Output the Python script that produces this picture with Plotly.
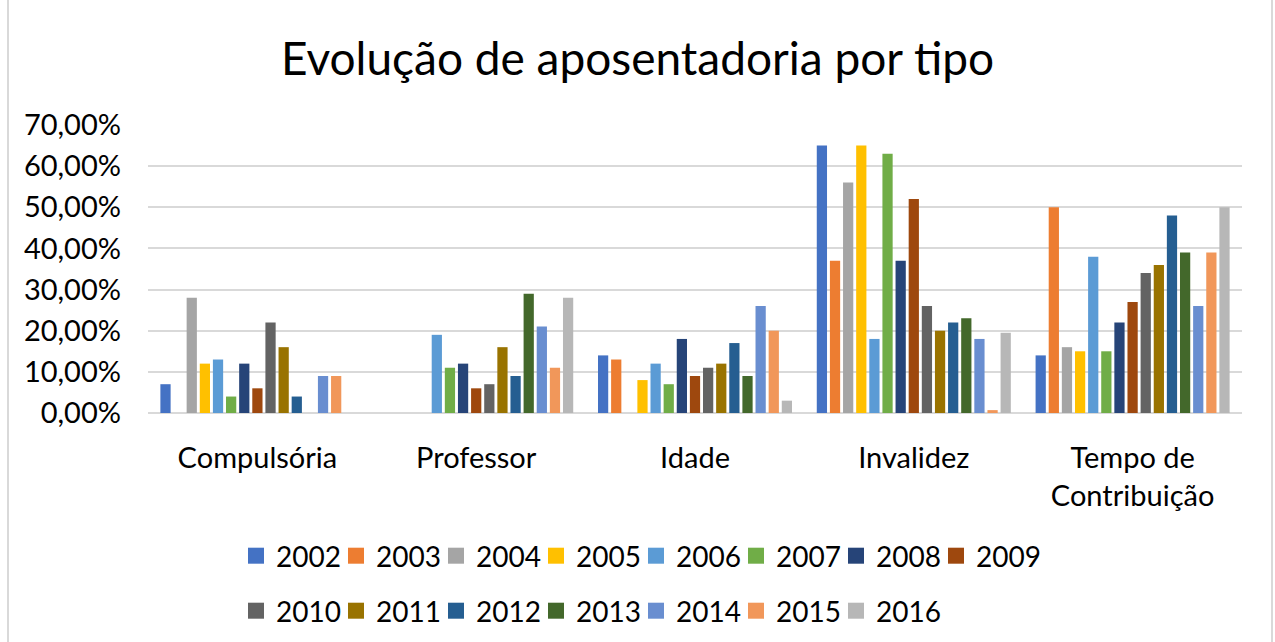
import plotly.graph_objects as go

# categories on the x axis
categories = ["Compulsória", "Professor", "Idade", "Invalidez", "Tempo de<br>Contribuição"]

years = ["2002", "2003", "2004", "2005", "2006", "2007", "2008", "2009",
         "2010", "2011", "2012", "2013", "2014", "2015", "2016"]

# share of retirements per type, one list per year (Compulsória, Professor, Idade, Invalidez, Tempo)
v2002 = [0.07, 0.0, 0.14, 0.65, 0.14]
v2003 = [0.0, 0.0, 0.13, 0.37, 0.50]
v2004 = [0.28, 0.0, 0.0, 0.56, 0.16]
v2005 = [0.12, 0.0, 0.08, 0.65, 0.15]
v2006 = [0.13, 0.19, 0.12, 0.18, 0.38]
v2007 = [0.04, 0.11, 0.07, 0.63, 0.15]
v2008 = [0.12, 0.12, 0.18, 0.37, 0.22]
v2009 = [0.06, 0.06, 0.09, 0.52, 0.27]
v2010 = [0.22, 0.07, 0.11, 0.26, 0.34]
v2011 = [0.16, 0.16, 0.12, 0.20, 0.36]
v2012 = [0.04, 0.09, 0.17, 0.22, 0.48]
v2013 = [0.0, 0.29, 0.09, 0.23, 0.39]
v2014 = [0.09, 0.21, 0.26, 0.18, 0.26]
v2015 = [0.09, 0.11, 0.20, 0.007, 0.39]
v2016 = [0.0, 0.28, 0.03, 0.195, 0.50]

values = [v2002, v2003, v2004, v2005, v2006, v2007, v2008, v2009,
          v2010, v2011, v2012, v2013, v2014, v2015, v2016]

colors = ["#4472C4", "#ED7D31", "#A5A5A5", "#FFC000", "#5B9BD5", "#70AD47",
          "#264478", "#9E480E", "#636363", "#997300", "#255E91", "#43682B",
          "#698ED0", "#F1975A", "#B7B7B7"]

font = "Lato, 'Open Sans', sans-serif"

fig = go.Figure()
for i, (year, vals, col) in enumerate(zip(years, values, colors)):
    fig.add_trace(go.Bar(
        x=categories,
        y=vals,
        name=year,
        marker=dict(color=col, line=dict(width=0)),
        legendgroup=year,
        showlegend=False,
    ))
    # legend-only entry so the swatch can be a bigger square
    fig.add_trace(go.Scatter(
        x=[None], y=[None],
        mode="markers",
        name=year,
        marker=dict(symbol="square", size=16, color=col),
        legendgroup=year,
        legend="legend" if i < 8 else "legend2",
    ))

# empty spacer entries so the last label of each row isn't clipped
for leg in ["legend", "legend2"]:
    fig.add_trace(go.Scatter(
        x=[None], y=[None], mode="markers", name=" ",
        marker=dict(size=1, color="rgba(0,0,0,0)",
                    line=dict(width=0, color="rgba(0,0,0,0)")),
        legend=leg, hoverinfo="skip",
    ))

# two legend rows, 8 + 7 entries
legend_style = dict(
    orientation="h",
    font=dict(family=font, size=28, color="#000000"),
    entrywidth=55,
    entrywidthmode="pixels",
    xref="container",
    yref="container",
    xanchor="left",
    yanchor="middle",
    bgcolor="rgba(0,0,0,0)",
    itemsizing="trace",
)

fig.update_layout(
    width=1275,
    height=642,
    title=dict(text="Evolução de aposentadoria por tipo", x=0.5, xanchor="center",
               y=0.908, yanchor="middle",
               font=dict(family=font, size=46, color="#000000")),
    font=dict(family=font, size=29, color="#000000"),
    separators=",.",
    barmode="group",
    bargap=0.1,
    bargroupgap=0.22,
    plot_bgcolor="white",
    paper_bgcolor="white",
    margin=dict(l=148, r=33, t=125, b=229),
    xaxis=dict(showgrid=False, showline=False, ticks="", tickfont=dict(size=29),
               ticklabelstandoff=25),
    yaxis=dict(range=[0, 0.7], dtick=0.1, tickformat=".2%", showgrid=True,
               gridcolor="#D9D9D9", gridwidth=1.5, zeroline=True,
               zerolinecolor="#D9D9D9", zerolinewidth=1.5, ticks="",
               tickfont=dict(size=29), ticklabelstandoff=26),
    legend=dict(legend_style, x=236 / 1275, y=1 - 556 / 642),
    legend2=dict(legend_style, x=236 / 1275, y=1 - 611 / 642),
    shapes=[
        dict(type="line", xref="paper", yref="paper",
             x0=(8 - 148) / 1094, x1=(8 - 148) / 1094,
             y0=(413 - 642) / 288, y1=413 / 288,
             line=dict(color="#D9D9D9", width=2)),
        dict(type="line", xref="paper", yref="paper",
             x0=(1272 - 148) / 1094, x1=(1272 - 148) / 1094,
             y0=(413 - 642) / 288, y1=413 / 288,
             line=dict(color="#D9D9D9", width=2)),
    ],
)

fig.write_html("out.html", config={"displayModeBar": False},
               post_script="document.body.style.margin = '0';")
